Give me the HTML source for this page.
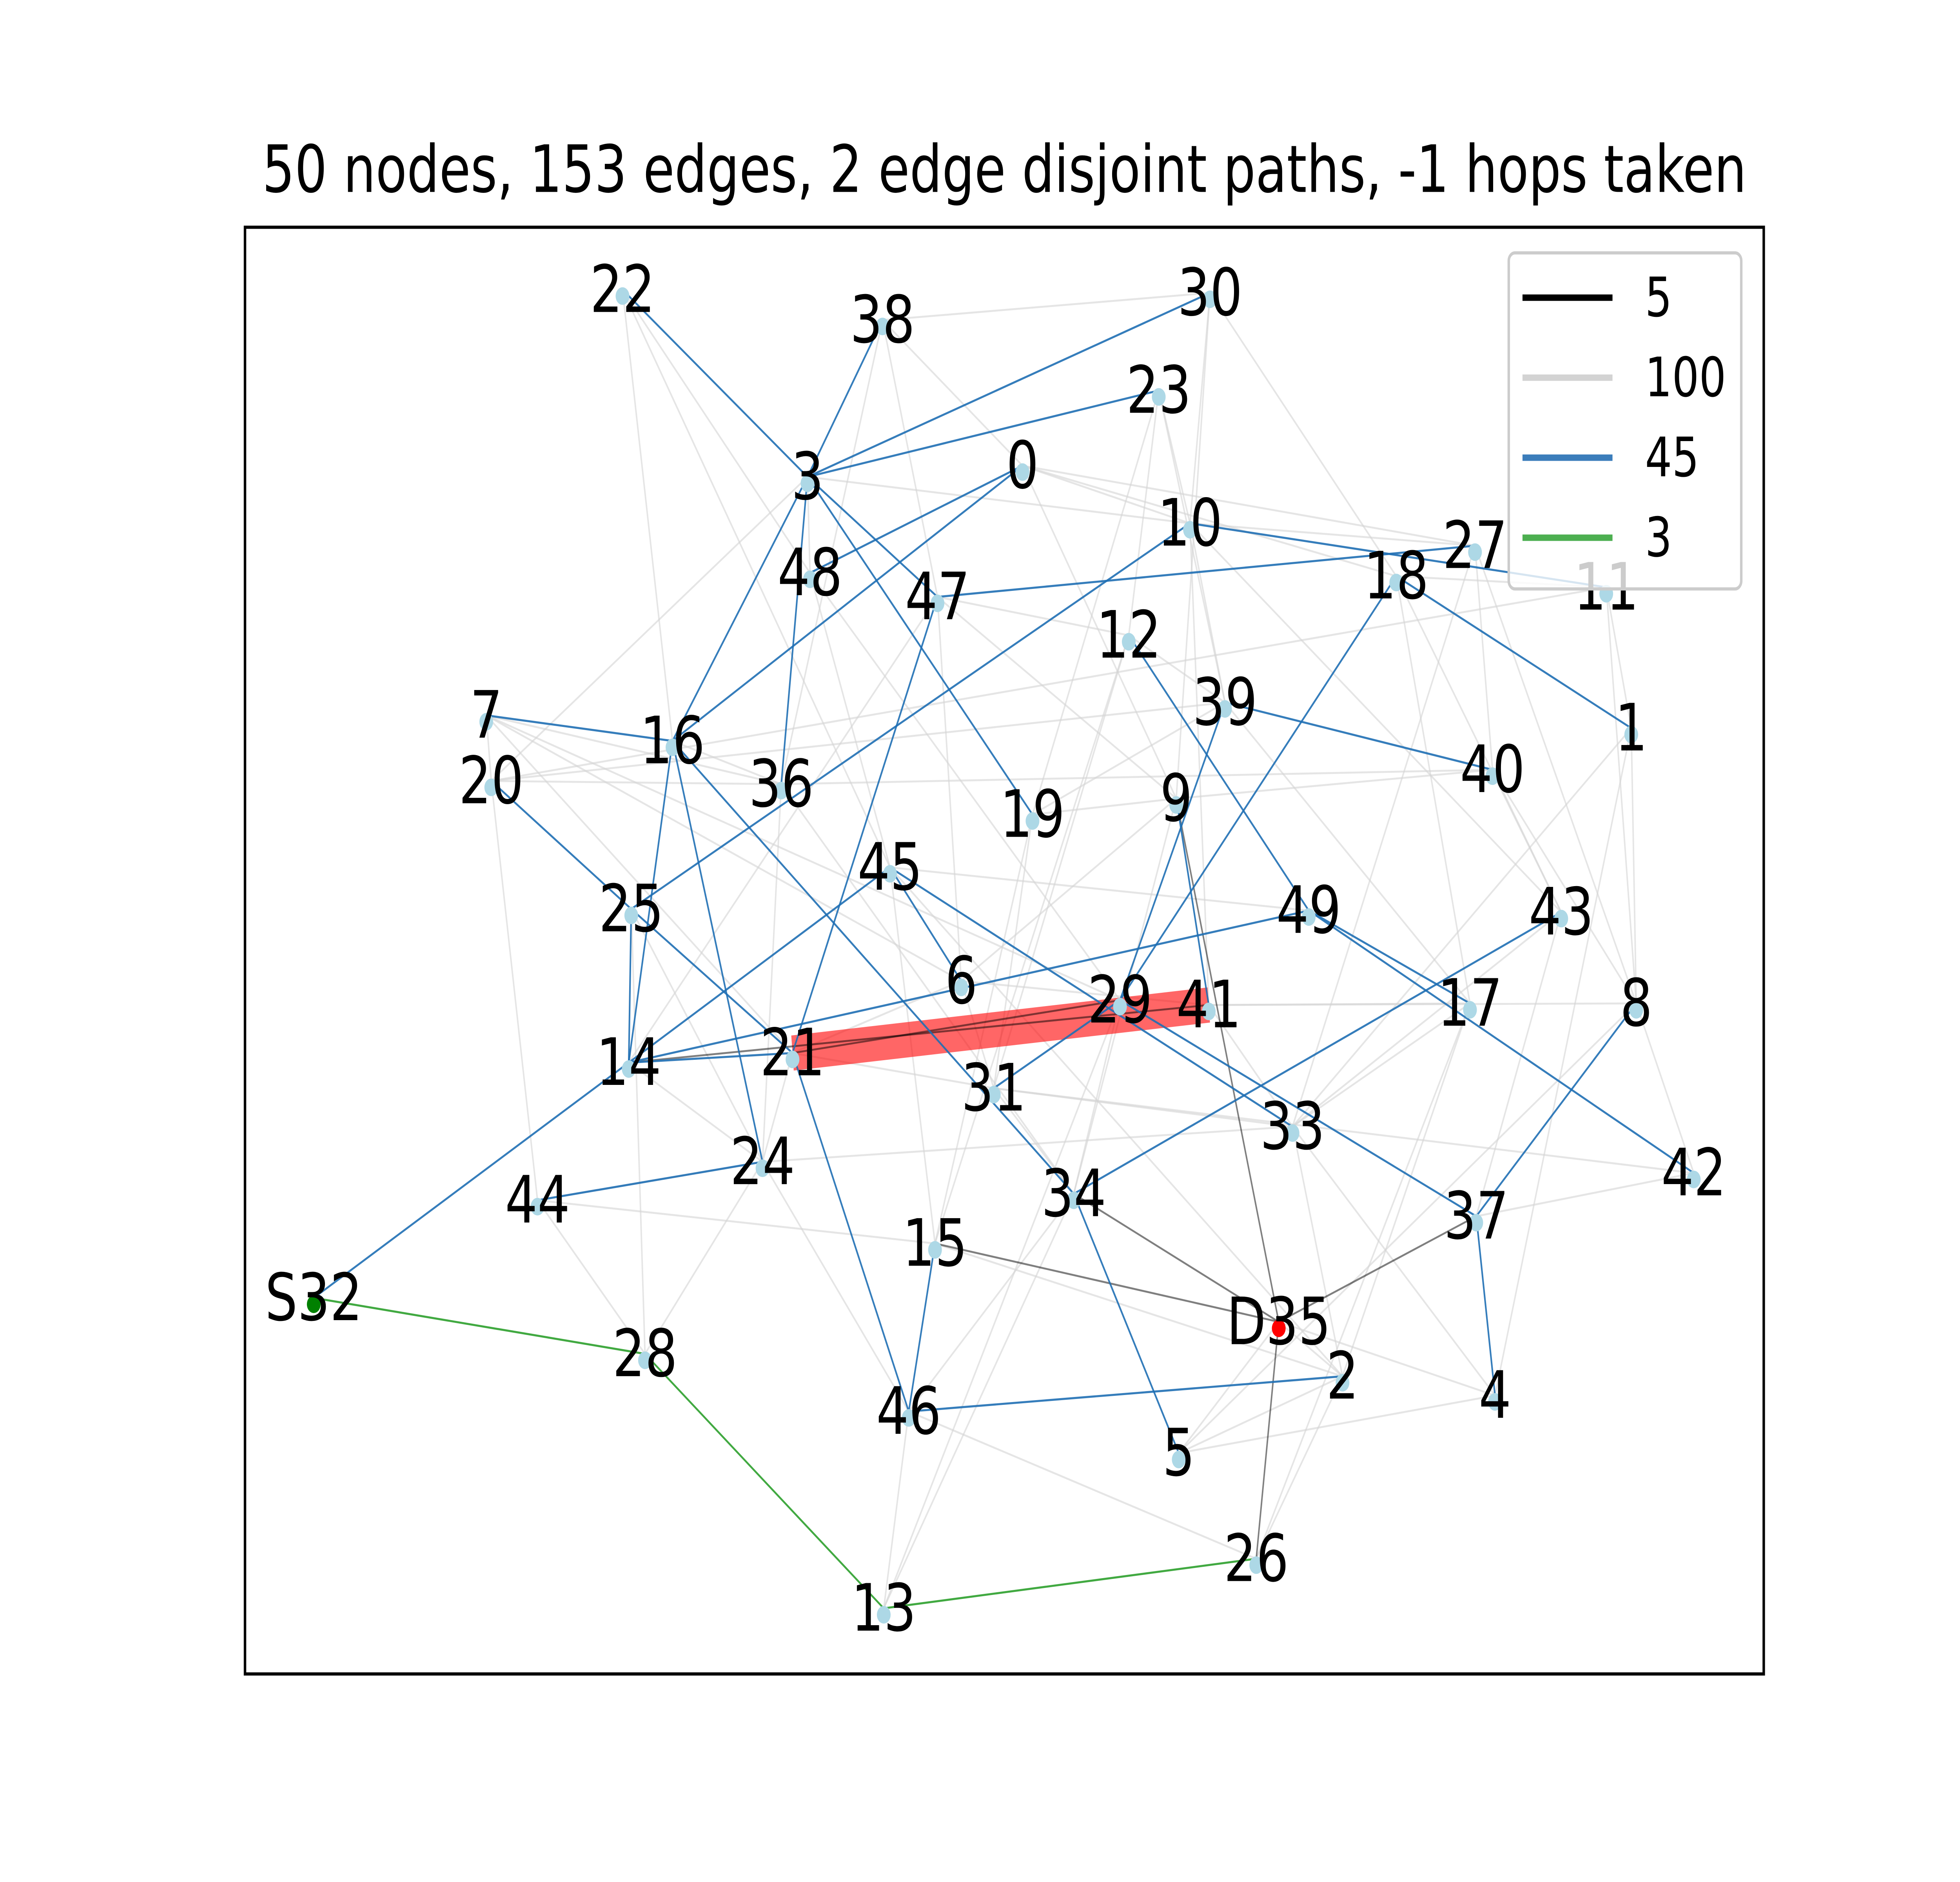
<!DOCTYPE html>
<html><head><meta charset="utf-8">
<style>
html,body{margin:0;padding:0;background:#fff;width:100%;height:100%;overflow:hidden;}
svg{display:block;position:absolute;left:0;top:0;width:100vw;height:100vh;}
text{font-family:"DejaVu Sans","Liberation Sans",sans-serif;}
</style></head>
<body>
<svg id="chart" viewBox="0 0 1568 1176" preserveAspectRatio="none" xmlns="http://www.w3.org/2000/svg">
<rect x="0" y="0" width="1568" height="1176" fill="#fff"/>
<text x="803.5" y="106" font-size="40.8" text-anchor="middle" dominant-baseline="central" fill="#000">50 nodes, 153 edges, 2 edge disjoint paths, -1 hops taken</text>
<g id="edges-light"></g>
<g id="path-highlight"></g>
<g id="edges-dark"></g>
<g id="edges-blue"></g>
<g id="edges-green"></g>
<g id="nodes"></g>
<g id="labels"></g>
<rect x="196" y="142" width="1215" height="904" fill="none" stroke="#000" stroke-width="2"/>
<g>
<rect x="1207" y="158" width="186" height="210" rx="5" fill="#fff" fill-opacity="0.8" stroke="#ccc" stroke-width="2"/>
<g id="legend-entries"></g>
</g>
</svg>
<script>
const nodeIds = [22,38,30,23,3,0,10,27,18,11,48,47,12,7,16,39,1,20,36,40,19,9,45,25,49,43,6,29,41,17,8,21,14,31,33,24,42,44,34,37,15,32,35,28,2,4,46,5,26,13];
const nodeX = [498,706,968,927,646,818,952,1180,1117,1285,648,750,903,389,538,980,1305,393,625,1194,826,941,712,505,1047,1249,769,896,967,1176,1309,634,503,795,1034,610,1355,430,859,1181,748,251,1023,516,1074,1196,727,943,1005,707];
const nodeY = [181,200,183,244,298,291,327,341,360,367,358,373,397,447,463,439,455,488,490,481,509,499,542,568,569,570,613,625,628,627,627,658,664,680,704,726,733,750,746,760,777,811,826,846,860,872,882,908,974,1005];
const nodeLabels = {32:"S32",35:"D35"};

const blueEdges = [[22,3],[3,38],[3,30],[3,23],[3,16],[3,36],[3,19],[3,47],[0,16],[0,48],[10,25],[10,11],[47,27],[18,1],[18,29],[7,16],[20,25],[16,14],[16,24],[16,34],[25,14],[25,21],[21,47],[21,46],[14,45],[14,32],[14,21],[14,49],[45,6],[45,33],[29,37],[12,49],[39,40],[39,29],[29,31],[49,17],[49,42],[43,34],[8,37],[37,4],[44,24],[15,46],[46,2],[34,5],[9,41]];
const darkEdges = [[15,35],[34,35],[37,35],[35,26],[9,35],[21,29],[14,41]];
const greenEdges = [[32,28],[28,13],[13,26]];
const lightEdges = [[22,16],[22,48],[38,30],[38,47],[38,0],[38,36],[30,10],[30,9],[30,18],[23,12],[23,10],[23,19],[23,39],[0,10],[0,18],[0,27],[3,10],[3,48],[10,27],[10,39],[10,41],[10,43],[47,12],[47,9],[47,6],[48,45],[48,29],[27,40],[27,8],[27,33],[18,17],[18,43],[18,11],[11,1],[11,8],[11,20],[1,8],[1,33],[1,4],[12,39],[12,31],[39,19],[39,20],[39,17],[7,20],[7,36],[7,29],[7,6],[7,21],[20,36],[20,44],[20,3],[16,36],[36,40],[36,24],[36,34],[19,31],[19,15],[19,9],[9,6],[9,34],[9,40],[45,49],[45,2],[25,24],[25,28],[6,41],[6,21],[6,31],[29,34],[29,13],[41,17],[41,8],[41,33],[17,33],[17,2],[17,26],[43,37],[43,33],[40,43],[40,8],[8,42],[8,5],[21,31],[21,24],[31,33],[31,34],[33,2],[33,4],[24,44],[24,28],[24,33],[42,37],[42,31],[44,15],[44,28],[34,46],[34,13],[15,45],[15,2],[35,2],[35,4],[2,5],[2,26],[4,5],[46,26],[46,24],[5,35],[13,46],[12,15],[47,14],[0,9],[22,45],[14,24]];

const legendLabels = ["5","100","45","3"];
const legendColors = ["#000000","#d3d3d3","#3b7dbb","#4caf50"];

const svgNS = "http://www.w3.org/2000/svg";
function px(id){ return nodeX[nodeIds.indexOf(id)]; }
function py(id){ return nodeY[nodeIds.indexOf(id)]; }
function drawEdges(list, groupId, color, width, opacity, name){
  const g = document.getElementById(groupId);
  list.forEach(function(e){
    const l = document.createElementNS(svgNS,"line");
    l.setAttribute("x1",px(e[0])); l.setAttribute("y1",py(e[0]));
    l.setAttribute("x2",px(e[1])); l.setAttribute("y2",py(e[1]));
    l.setAttribute("stroke",color); l.setAttribute("stroke-width",width);
    l.setAttribute("stroke-opacity",opacity);
    
    
    g.appendChild(l);
  });
}
drawEdges(lightEdges,"edges-light","#d3d3d3",1.2,0.6,"light-edge");
(function(){
  const g = document.getElementById("path-highlight");
  const l = document.createElementNS(svgNS,"line");
  l.setAttribute("x1",px(21)); l.setAttribute("y1",py(21));
  l.setAttribute("x2",px(41)); l.setAttribute("y2",py(41));
  l.setAttribute("stroke","#ff0000"); l.setAttribute("stroke-width",22);
  l.setAttribute("stroke-opacity",0.6);
  
  
  g.appendChild(l);
})();
drawEdges(darkEdges,"edges-dark","#000000",1.2,0.5,"dark-edge");
drawEdges(blueEdges,"edges-blue","#1f6fb4",1.3,0.9,"blue-edge");
drawEdges(greenEdges,"edges-green","#2ca02c",1.3,0.9,"green-edge");

const ng = document.getElementById("nodes");
const lg = document.getElementById("labels");
nodeIds.forEach(function(id,i){
  const c = document.createElementNS(svgNS,"circle");
  c.setAttribute("cx",nodeX[i]); c.setAttribute("cy",nodeY[i]+4);
  c.setAttribute("r",5.5);
  c.setAttribute("fill", id===32 ? "#008000" : (id===35 ? "#ff0000" : "#add8e6"));
  
  
  ng.appendChild(c);
  const t = document.createElementNS(svgNS,"text");
  t.setAttribute("x",nodeX[i]); t.setAttribute("y",nodeY[i]);
  t.setAttribute("font-size",40.8);
  t.setAttribute("text-anchor","middle");
  t.setAttribute("dominant-baseline","central");
  t.textContent = nodeLabels[id] || String(id);
  
  
  lg.appendChild(t);
});

const leg = document.getElementById("legend-entries");
legendLabels.forEach(function(lab,i){
  const y = 186 + i*50;
  const l = document.createElementNS(svgNS,"line");
  l.setAttribute("x1",1218); l.setAttribute("x2",1290);
  l.setAttribute("y1",y); l.setAttribute("y2",y);
  l.setAttribute("stroke",legendColors[i]); l.setAttribute("stroke-width",4);
  
  
  leg.appendChild(l);
  const t = document.createElementNS(svgNS,"text");
  t.setAttribute("x",1316); t.setAttribute("y",y);
  t.setAttribute("font-size",34);
  t.setAttribute("dominant-baseline","central");
  t.textContent = lab;
  
  
  leg.appendChild(t);
});
</script>
</body></html>
